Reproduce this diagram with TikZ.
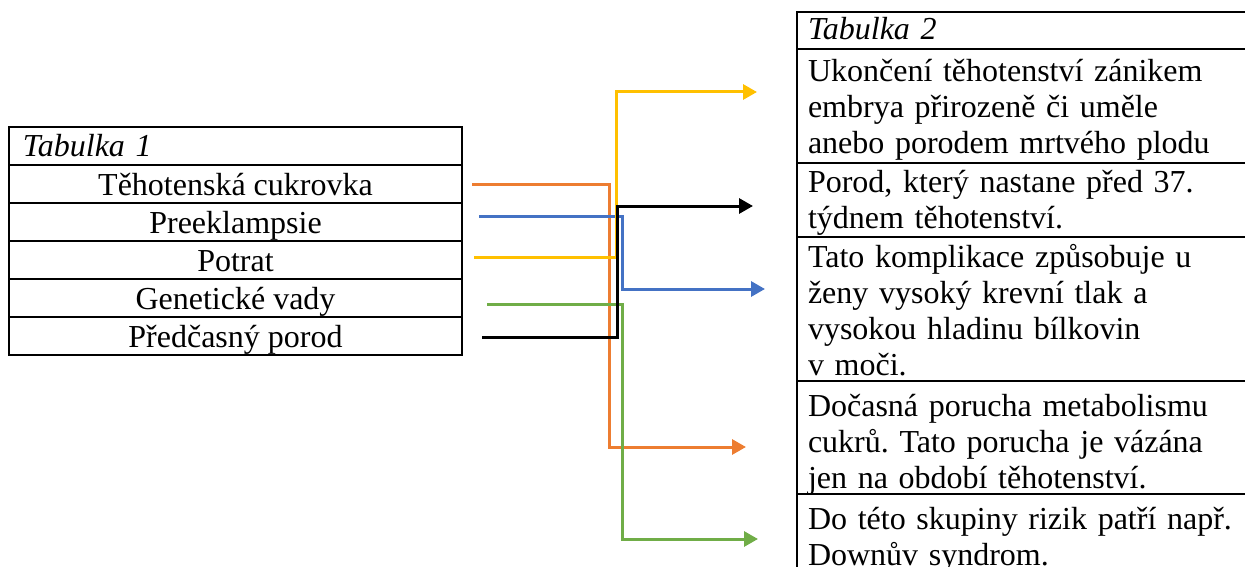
\documentclass[tikz,border=0pt]{standalone}
\usepackage{fontspec}
\setmainfont{Liberation Serif}
\usetikzlibrary{arrows.meta}
\definecolor{arrOrange}{HTML}{ED7D31}
\definecolor{arrBlue}{HTML}{4472C4}
\definecolor{arrYellow}{HTML}{FFC000}
\definecolor{arrGreen}{HTML}{70AD47}
\newcommand{\tabfont}{\fontsize{32}{36}\selectfont\frenchspacing}

\begin{document}
\begin{tikzpicture}[x=1pt, y=-1pt, >={Triangle[length=14pt,width=15pt]}, font=\tabfont,
	cell/.style={draw, line width=2.2pt, outer sep=0pt, inner sep=0pt, anchor=north west,
		minimum width=453pt, minimum height=38pt, text height=30pt, text depth=8pt},
	rcell/.style={draw, line width=2.2pt, outer sep=0pt, inner xsep=11pt, inner ysep=0pt,
		anchor=north west, minimum width=470pt, text width=448pt, align=left},
	conn/.style={->, line width=3pt}]
\useasboundingbox (0,0) rectangle (1245,567);
%========================
% Left: Tabulka 1
%========================
\node[cell, inner xsep=14pt, text width=425pt, align=left, font=\tabfont\itshape] (t1head) at (9,127) {Tabulka 1};
\foreach \name/\txt [count=\i] in {cuk/Těhotenská cukrovka, pre/Preeklampsie, pot/Potrat,
		gen/Genetické vady, pred/Předčasný porod}
	\node[cell] (\name) at (9,{127+38*\i}) {\txt};

%========================
% Right: Tabulka 2
%========================
\node[rcell, minimum height=37pt, text height=28pt, text depth=9pt, font=\tabfont\itshape] (t2head) at (797,12) {Tabulka 2};
\node[rcell, minimum height=114pt, text height=33pt, text depth=81pt] (dPot) at (797,49) {Ukončení těhotenství zánikem\\
	embrya přirozeně či uměle\\ anebo porodem mrtvého plodu};
\node[rcell, minimum height=74pt, text height=29pt, text depth=45pt] (dPred) at (797,163) {Porod, který nastane před 37.\\
	týdnem těhotenství.};
\node[rcell, minimum height=144pt, text height=30pt, text depth=114pt] (dPre) at (797,237) {Tato komplikace způsobuje u\\
	ženy vysoký krevní tlak a\\ vysokou hladinu bílkovin\\ v moči.};
\node[rcell, minimum height=113pt, text height=35pt, text depth=78pt] (dCuk) at (797,381) {Dočasná porucha metabolismu\\
	cukrů. Tato porucha je vázána\\ jen na období těhotenství.};
\node[rcell, minimum height=76pt, text height=35pt, text depth=41pt] (dGen) at (797,494) {Do této skupiny rizik patří např.\\
	Downův syndrom.};

% arrow ends (free)
\coordinate (sCuk) at (472,184);
\coordinate (sPre) at (479,216);
\coordinate (sPot) at (474,257);
\coordinate (sGen) at (487,304);
\coordinate (sPred) at (482,337);
\coordinate (eCuk) at (746,447);
\coordinate (ePre) at (765,289);
\coordinate (ePot) at (757,92);
\coordinate (eGen) at (758,539);
\coordinate (ePred) at (753,206);

% connectors
\draw[conn, arrOrange] (sCuk) -- ++(137,0) |- (eCuk);
\draw[conn, arrBlue] (sPre) -- ++(143,0) |- (ePre);
\draw[conn, arrYellow] (sPot) -- ++(142,0) |- (ePot);
\draw[conn, arrGreen] (sGen) -- ++(135,0) |- (eGen);
\draw[conn, black] (sPred) -- ++(135,0) |- (ePred);
\end{tikzpicture}
\end{document}
